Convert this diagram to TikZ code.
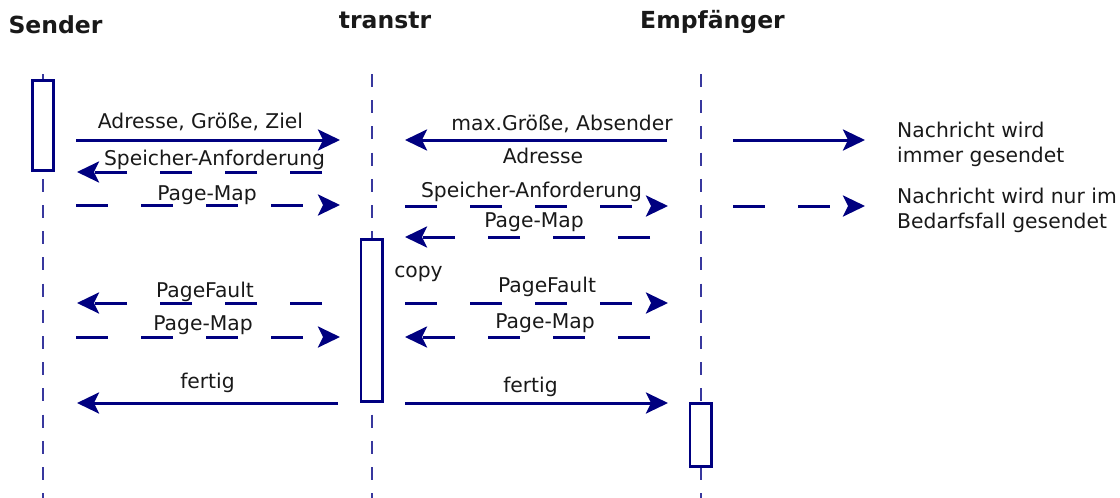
\documentclass[tikz,border=0pt]{standalone}
\usepackage{fontspec}
\setmainfont{DejaVu Sans}
\usetikzlibrary{arrows.meta}
\definecolor{msg}{rgb}{0,0,0.5}
\definecolor{life}{rgb}{0.22,0.22,0.62}
\definecolor{txt}{rgb}{0.1,0.1,0.1}
\begin{document}
\begin{tikzpicture}[x=1pt,y=-1pt,
 lbl/.style={anchor=base,inner sep=0pt,font=\fontsize{20.3}{24}\selectfont,text=txt},
 leg/.style={lbl,anchor=base west},
 ttl/.style={anchor=base,inner sep=0pt,font=\fontsize{23.5}{28}\selectfont\bfseries,text=txt},
 msgline/.style={draw=msg,line width=3pt,-{Stealth[length=22pt,width=21pt,inset=5pt]}},
 opt/.style={msgline,dash pattern=on 32pt off 33pt},
 lifeline/.style={draw=life,line width=1.8pt,dash pattern=on 13pt off 13.2pt},
 act/.style={draw=msg,line width=2.7pt,fill=white,minimum width=21.3pt,inner sep=0pt}]
\useasboundingbox (0,0) rectangle (1120,498);
% titles
\node[ttl] (tS) at (55.5,33) {Sender};
\node[ttl] (tT) at (385,28) {transtr};
\node[ttl] (tE) at (712.5,28) {Empfänger};
% lifelines
\coordinate (lS1) at (43,74); \coordinate (lS2) at (43,498);
\coordinate (lT1) at (372,74); \coordinate (lT2) at (372,498);
\coordinate (lE1) at (701,74); \coordinate (lE2) at (701,498);
\draw[lifeline] (lS1) -- (lS2);
\draw[lifeline] (lT1) -- (lT2);
\draw[lifeline] (lE1) -- (lE2);
% activation boxes
\node[act,minimum height=90.3pt] (aS) at (43,125.5) {};
\node[act,minimum height=162.3pt] (aT) at (371.5,320.5) {};
\node[act,minimum height=63.3pt] (aE) at (700.5,435) {};
% message endpoints
\coordinate (m1a) at (76,140);  \coordinate (m1b) at (340,140);
\coordinate (m2a) at (322,172); \coordinate (m2b) at (77,172);
\coordinate (m3a) at (76,205);  \coordinate (m3b) at (340,205);
\coordinate (m4a) at (667,140); \coordinate (m4b) at (405,140);
\coordinate (m5a) at (405,206); \coordinate (m5b) at (668,206);
\coordinate (m6a) at (650,237); \coordinate (m6b) at (405,237);
\coordinate (m7a) at (322,303); \coordinate (m7b) at (77,303);
\coordinate (m8a) at (405,303); \coordinate (m8b) at (668,303);
\coordinate (m9a) at (76,337);  \coordinate (m9b) at (340,337);
\coordinate (m10a) at (650,337); \coordinate (m10b) at (405,337);
\coordinate (m11a) at (338,403); \coordinate (m11b) at (77,403);
\coordinate (m12a) at (405,403); \coordinate (m12b) at (668,403);
\draw[msgline] (m1a) -- (m1b);
\draw[opt] (m2a) -- (m2b);
\draw[opt] (m3a) -- (m3b);
\draw[msgline] (m4a) -- (m4b);
\draw[opt] (m5a) -- (m5b);
\draw[opt] (m6a) -- (m6b);
\draw[opt] (m7a) -- (m7b);
\draw[opt] (m8a) -- (m8b);
\draw[opt] (m9a) -- (m9b);
\draw[opt] (m10a) -- (m10b);
\draw[msgline] (m11a) -- (m11b);
\draw[msgline] (m12a) -- (m12b);
% labels
\node[lbl] (l1) at (200.5,128) {Adresse, Größe, Ziel};
\node[lbl] (l2) at (214.5,165) {Speicher-Anforderung};
\node[lbl] (l3) at (207,200) {Page-Map};
\node[lbl] (l4) at (562,130) {max.Größe, Absender};
\node[lbl] (l5) at (543,163) {Adresse};
\node[lbl] (l6) at (531.5,197) {Speicher-Anforderung};
\node[lbl] (l7) at (534,227) {Page-Map};
\node[lbl] (l8) at (418.5,277) {copy};
\node[lbl] (l9) at (205,297) {PageFault};
\node[lbl] (l10) at (547,292) {PageFault};
\node[lbl] (l11) at (203,330) {Page-Map};
\node[lbl] (l12) at (545,328) {Page-Map};
\node[lbl] (l13) at (207.5,388) {fertig};
\node[lbl] (l14) at (530.5,392) {fertig};
% legend
\coordinate (g1a) at (733,140); \coordinate (g1b) at (865,140);
\coordinate (g2a) at (733,206); \coordinate (g2b) at (865,206);
\draw[msgline] (g1a) -- (g1b);
\draw[opt] (g2a) -- (g2b);
\node[leg] (g1) at (897,137) {Nachricht wird};
\node[leg] (g2) at (897,162) {immer gesendet};
\node[leg] (g3) at (897,203) {Nachricht wird nur im};
\node[leg] (g4) at (897,228) {Bedarfsfall gesendet};
\end{tikzpicture}
\end{document}
